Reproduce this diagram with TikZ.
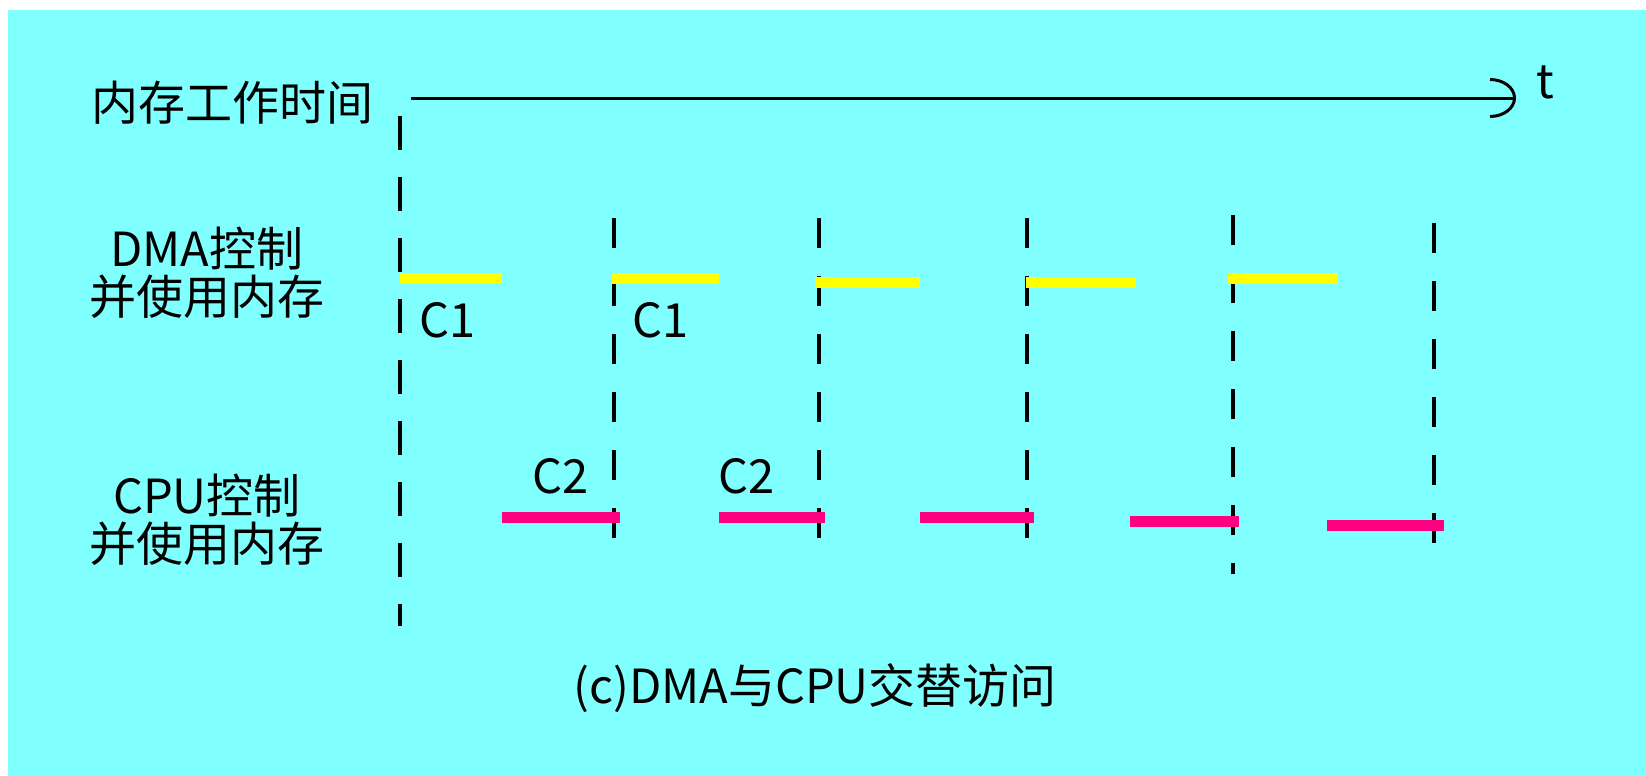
\documentclass[tikz,border=0pt]{standalone}
\usepackage{fontspec}
\setmainfont{Noto Sans CJK SC}
\usetikzlibrary{positioning}
\usetikzlibrary{arrows.meta,arrows}
\definecolor{bgcyan}{RGB}{128,255,255}
\definecolor{dmayellow}{RGB}{255,255,0}
\definecolor{cpupink}{RGB}{255,0,128}

\begin{document}
\begin{tikzpicture}[x=0.5pt,y=-0.5pt,
		font=\fontsize{23.5}{24}\selectfont,
		cycline/.style={line width=2pt,dash pattern=on 15pt off 14pt},
		dmabar/.style={line width=5.5pt,dmayellow},
		cpubar/.style={line width=5.5pt,cpupink}]
				\useasboundingbox (0,0) rectangle (1646,776);
				\fill[bgcyan] (8,10) rectangle (1646,776);

				\node(memtime) at (232,103) {内存工作时间};
				\node[align=center](dmause) at (207,273) {DMA控制\\并使用内存};
				\node[align=center](cpuuse) at (207,520) {CPU控制\\并使用内存};
				\node(caption) at (815,688) {(c)DMA与CPU交替访问};

				\coordinate (t0) at (411,98);
				\coordinate (t1) at (1516,98);
				\draw[line width=1.5pt,-{Arc Barb[length=13pt,width=20pt]}] (t0) -- (t1);
				\node(tlab) at (1545,82) {t};

				\draw[cycline,dash pattern=on 17pt off 13.5pt] (400,116) -- (400,626);
				\draw[cycline] (614,218) -- (614,556);
				\draw[cycline] (819,218) -- (819,549);
				\draw[cycline] (1027,218) -- (1027,562);
				\draw[cycline] (1233,215) -- (1233,574);
				\draw[cycline] (1434,223) -- (1434,565);

				\draw[dmabar] (400,278) -- (502,278);
				\draw[dmabar] (612,278) -- (719,278);
				\draw[dmabar] (815,282) -- (920,282);
				\draw[dmabar] (1026,282) -- (1136,282);
				\draw[dmabar] (1228,278) -- (1338,278);

				\draw[cpubar] (502,517) -- (620,517);
				\draw[cpubar] (719,517) -- (825,517);
				\draw[cpubar] (920,517) -- (1034,517);
				\draw[cpubar] (1130,521) -- (1239,521);
				\draw[cpubar] (1327,525) -- (1444,525);

				\node(c1a) at (448,320) {C1};
				\node(c1b) at (661,320) {C1};
				\node(c2a) at (561,476) {C2};
				\node(c2b) at (747,476) {C2};
			\end{tikzpicture}
\end{document}
